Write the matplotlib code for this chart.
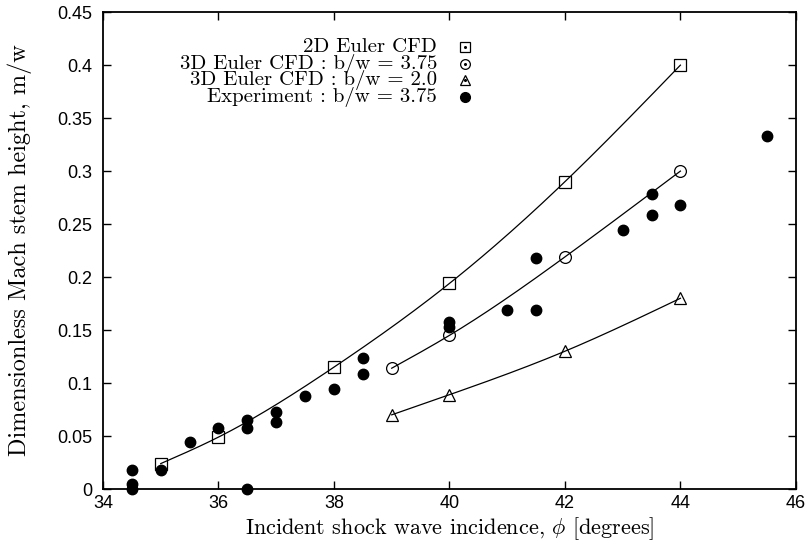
import numpy as np
import matplotlib
matplotlib.use("Agg")
import matplotlib.pyplot as plt
from matplotlib import font_manager

plt.rcParams['mathtext.fontset'] = 'cm'
names = {f.name for f in font_manager.fontManager.ttflist}
tick_family = ['Liberation Sans Narrow', 'Liberation Sans'] if 'Liberation Sans Narrow' in names else ['Liberation Sans']
plt.rcParams['font.family'] = tick_family + ['DejaVu Sans']

# ---- data ----
cfd2d_x = [35, 36, 38, 40, 42, 44]
cfd2d_y = [0.024, 0.049, 0.115, 0.194, 0.290, 0.400]

cfd375_x = [39, 40, 42, 44]
cfd375_y = [0.114, 0.145, 0.219, 0.300]

cfd20_x = [39, 40, 42, 44]
cfd20_y = [0.070, 0.089, 0.130, 0.180]

exp_x = [34.5, 34.5, 34.5, 35.0, 35.5, 36.0, 36.5, 36.5, 36.5, 37.0, 37.0, 37.5,
         38.0, 38.5, 38.5, 40.0, 40.0, 41.0, 41.5, 41.5, 43.0, 43.5, 43.5, 44.0, 45.5]
exp_y = [0.018, 0.005, 0.0, 0.018, 0.044, 0.058, 0.065, 0.058, 0.0, 0.073, 0.063, 0.088,
         0.094, 0.124, 0.109, 0.158, 0.153, 0.169, 0.218, 0.169, 0.244, 0.278, 0.259, 0.268, 0.333]

labels = ['2D Euler CFD',
          '3D Euler CFD : b/w = 3.75',
          '3D Euler CFD : b/w = 2.0',
          'Experiment : b/w = 3.75']
xticks = [34, 36, 38, 40, 42, 44, 46]
yticks = [0, 0.05, 0.1, 0.15, 0.2, 0.25, 0.3, 0.35, 0.4, 0.45]
ytick_labels = ['0', '0.05', '0.1', '0.15', '0.2', '0.25', '0.3', '0.35', '0.4', '0.45']

CM = ['cmr10', 'DejaVu Serif']


def natural_spline(x, y, n=200):
    x = np.asarray(x, float); y = np.asarray(y, float)
    k = len(x)
    h = np.diff(x)
    A = np.zeros((k, k)); r = np.zeros(k)
    A[0, 0] = 1; A[-1, -1] = 1
    for i in range(1, k - 1):
        A[i, i - 1] = h[i - 1]
        A[i, i] = 2 * (h[i - 1] + h[i])
        A[i, i + 1] = h[i]
        r[i] = 6 * ((y[i + 1] - y[i]) / h[i] - (y[i] - y[i - 1]) / h[i - 1])
    M = np.linalg.solve(A, r)
    xs = np.linspace(x[0], x[-1], n)
    ys = np.empty_like(xs)
    for j, xv in enumerate(xs):
        i = min(np.searchsorted(x, xv, side='right') - 1, k - 2)
        t1 = x[i + 1] - xv; t0 = xv - x[i]
        ys[j] = (M[i] * t1 ** 3 / (6 * h[i]) + M[i + 1] * t0 ** 3 / (6 * h[i])
                 + (y[i] / h[i] - M[i] * h[i] / 6) * t1
                 + (y[i + 1] / h[i] - M[i + 1] * h[i] / 6) * t0)
    return xs, ys


fig = plt.figure(figsize=(8.08, 5.52), dpi=100)
ax = fig.add_axes([0.1275, 0.1141, 0.8575, 0.8639])

for xs_, ys_ in [(cfd2d_x, cfd2d_y), (cfd375_x, cfd375_y), (cfd20_x, cfd20_y)]:
    sx, sy = natural_spline(xs_, ys_)
    ax.plot(sx, sy, color='black', lw=0.9, zorder=2)

ax.plot(cfd2d_x, cfd2d_y, ls='none', marker='s', ms=8.5, mfc='none', mec='black', mew=0.9, zorder=3, clip_on=False)
ax.plot(cfd375_x, cfd375_y, ls='none', marker='o', ms=8.5, mfc='none', mec='black', mew=0.9, zorder=3, clip_on=False)
ax.plot(cfd20_x, cfd20_y, ls='none', marker='^', ms=8.5, mfc='none', mec='black', mew=0.9, zorder=3, clip_on=False)
ax.plot(exp_x, exp_y, ls='none', marker='o', ms=7.5, mfc='black', mec='black', zorder=4, clip_on=False)

ax.set_xlim(34, 46)
ax.set_ylim(0, 0.45)
ax.set_xticks(xticks)
ax.set_yticks(yticks)
ax.set_yticklabels(ytick_labels)
ax.tick_params(direction='in', length=6, width=1, top=True, right=True, labelsize=13)
ax.tick_params(axis='y', pad=8)
ax.tick_params(axis='x', pad=4)
for s in ax.spines.values():
    s.set_linewidth(1.3)

ax.set_xlabel(r'Incident shock wave incidence, $\phi$ [degrees]', fontsize=16, family=CM, labelpad=3)
ax.set_ylabel('Dimensionless Mach stem height, m/w', fontsize=17.5, family=CM, labelpad=18)

# legend (manual, right-aligned text with marker on the right)
leg_styles = [dict(marker='s', ms=7, mfc='none', mec='black', mew=0.9),
              dict(marker='o', ms=7, mfc='none', mec='black', mew=0.9),
              dict(marker='^', ms=7, mfc='none', mec='black', mew=0.9),
              dict(marker='o', ms=7, mfc='black', mec='black')]
y0 = 1 - (47 - 12) / 477.0
dy = 16.5 / 477.0
tx = (437 - 103) / 693.0
mx = (465 - 103) / 693.0
for i, (lab, st) in enumerate(zip(labels, leg_styles)):
    yy = y0 - i * dy
    ax.text(tx, yy, lab, transform=ax.transAxes, ha='right', va='center', fontsize=15, family=CM)
    ax.plot([mx], [yy], transform=ax.transAxes, ls='none', **st)
    if i < 3:
        ax.plot([mx], [yy], transform=ax.transAxes, ls='none', marker='o', ms=1.2, mfc='black', mec='black')

fig.savefig('out.png', dpi=100)
